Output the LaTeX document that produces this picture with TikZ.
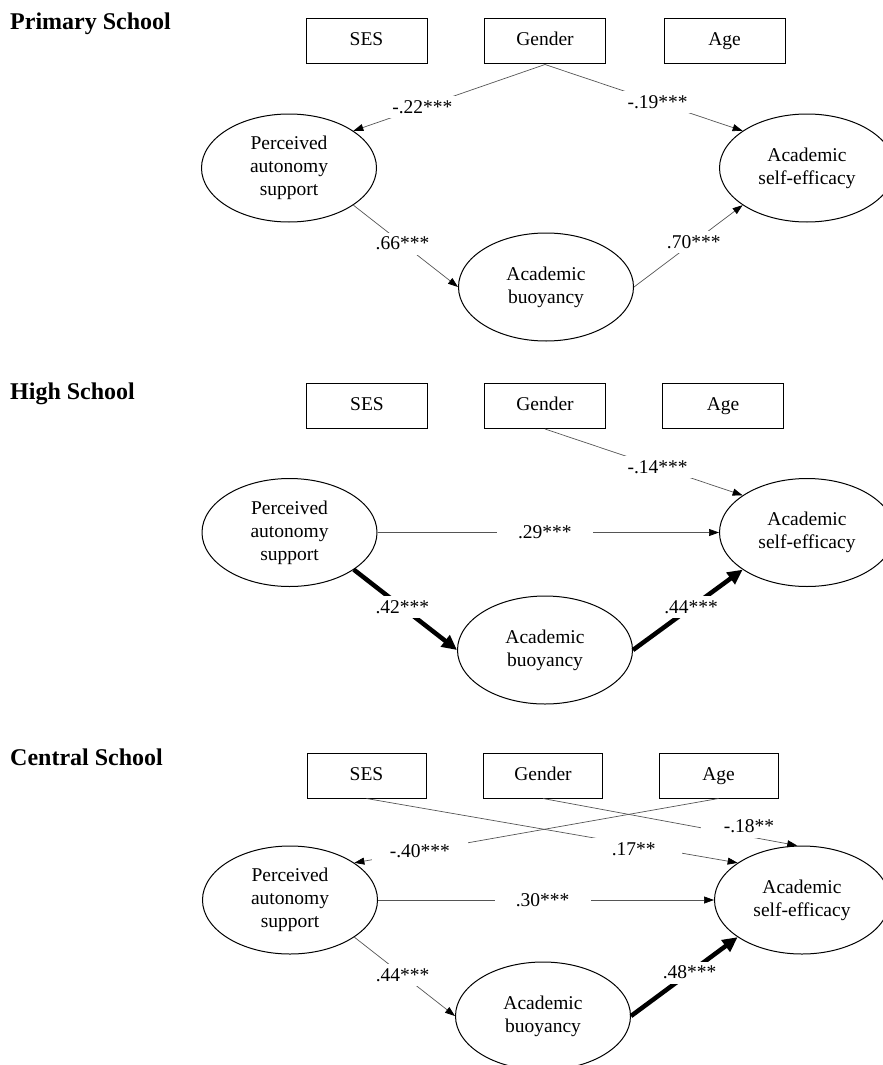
\documentclass[tikz,border=0pt]{standalone}
\usepackage{fontspec}
\setmainfont{Liberation Serif}
\usepackage{tikz}
\usetikzlibrary{arrows.meta,shapes.geometric}
\definecolor{inkmain}{HTML}{000000}
\definecolor{pathgray}{HTML}{555555}
\tikzset{every node/.append style={font=\fontsize{19.5}{23}\selectfont}}
\tikzset{
  panel/.style={anchor=base west,inner sep=0pt,font=\fontsize{24}{28}\selectfont\bfseries},
  obsbox/.style={draw=inkmain,line width=1pt,minimum width=121pt,minimum height=45pt,inner sep=0pt,text height=13pt,text depth=4pt},
  latent/.style={ellipse,draw=inkmain,line width=1pt,minimum width=175pt,minimum height=108pt,inner sep=0pt,align=center},
  coef/.style={fill=white,text=inkmain,inner sep=0pt,minimum width=96pt,minimum height=22pt},
  thinpath/.style={pathgray,line width=.7pt,-{Triangle[length=10pt,width=7pt,color=inkmain]}},
  thickpath/.style={inkmain,line width=4.5pt,-{Triangle[length=15pt,width=14pt]}}
}

\begin{document}
\begin{tikzpicture}[x=1pt,y=-1pt]
  \useasboundingbox (0,0) rectangle (883,1065);
  % primary school
  \node[panel] (ttl1) at (10,30) {Primary School};
  \node[obsbox] (ses1) at (366.5,41.5) {SES};
  \node[obsbox] (gen1) at (545,41.5) {Gender};
  \node[obsbox] (age1) at (724.5,41.5) {Age};
  \node[latent] (pas1) at (289,168) {Perceived\\autonomy\\support};
  \node[latent] (buoy1) at (546,287) {Academic\\buoyancy};
  \node[latent] (eff1) at (807,168) {Academic\\self-efficacy};
  \draw[thinpath] (gen1.south) -- node[coef,pos=.64] {-.22***} (pas1.30);
  \draw[thinpath] (gen1.south) -- node[coef,pos=.57] {-.19***} (eff1.150);
  \draw[thinpath] (pas1.-30) -- node[coef,pos=.47] {.66***} (buoy1.west);
  \draw[thinpath] (buoy1.east) -- node[coef,pos=.55] {.70***} (eff1.-150);
  % high school
  \node[panel] (ttl2) at (10,399) {High School};
  \node[obsbox] (ses2) at (367,406) {SES};
  \node[obsbox] (gen2) at (545,406) {Gender};
  \node[obsbox] (age2) at (723,406) {Age};
  \node[latent] (pas2) at (289.5,532.5) {Perceived\\autonomy\\support};
  \node[latent] (buoy2) at (545,650) {Academic\\buoyancy};
  \node[latent] (eff2) at (807,532.5) {Academic\\self-efficacy};
  \draw[thinpath] (gen2.south) -- node[coef,pos=.57] {-.14***} (eff2.150);
  \draw[thinpath] (pas2.east) -- node[coef,pos=.49] {.29***} (eff2.west);
  \draw[thickpath] (pas2.-30) -- node[coef,pos=.47] {.42***} (buoy2.west);
  \draw[thickpath] (buoy2.east) -- node[coef,pos=.53] {.44***} (eff2.-150);
  % central school
  \node[panel] (ttl3) at (10,765) {Central School};
  \node[obsbox,minimum width=119pt] (ses3) at (366.5,775.5) {SES};
  \node[obsbox,minimum width=119pt] (gen3) at (543,775.5) {Gender};
  \node[obsbox,minimum width=119pt] (age3) at (718.5,775.5) {Age};
  \node[latent] (pas3) at (290,900) {Perceived\\autonomy\\support};
  \node[latent] (buoy3) at (543,1016) {Academic\\buoyancy};
  \node[latent] (eff3) at (802,900) {Academic\\self-efficacy};
  \draw[thinpath] (age3.south) -- node[coef,pos=.82] {-.40***} (pas3.30);
  \draw[thinpath] (ses3.south) -- node[coef,pos=.72,yshift=-4pt] {.17**} (eff3.150);
  \draw[thinpath] (gen3.south) -- node[coef,pos=.81,yshift=10pt] {-.18**} (eff3.95);
  \draw[thinpath] (pas3.east) -- node[coef,pos=.49] {.30***} (eff3.west);
  \draw[thinpath] (pas3.-30) -- node[coef,pos=.48] {.44***} (buoy3.west);
  \draw[thickpath] (buoy3.east) -- node[coef,pos=.55] {.48***} (eff3.-150);
\end{tikzpicture}
\end{document}
